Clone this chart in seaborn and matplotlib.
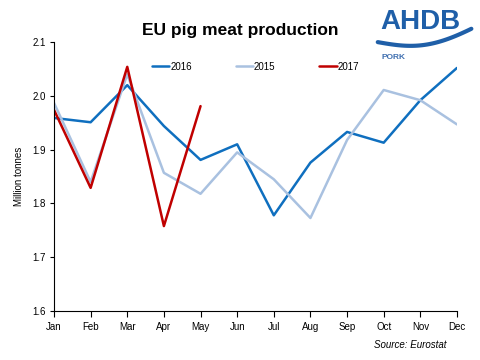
import numpy as np
import pandas as pd
import matplotlib
matplotlib.use("Agg")
import matplotlib.pyplot as plt
import seaborn as sns

months = ["Jan", "Feb", "Mar", "Apr", "May", "Jun", "Jul", "Aug", "Sep", "Oct", "Nov", "Dec"]
prod_2016 = [1.959, 1.951, 2.020, 1.944, 1.881, 1.910, 1.778, 1.876, 1.933, 1.913, 1.992, 2.052]
prod_2015 = [1.987, 1.840, 2.040, 1.857, 1.818, 1.895, 1.845, 1.773, 1.918, 2.011, 1.992, 1.947]
prod_2017 = [1.974, 1.829, 2.054, 1.758, 1.981]

rows = []
for year, vals in [("2016", prod_2016), ("2015", prod_2015), ("2017", prod_2017)]:
    for i, v in enumerate(vals):
        rows.append({"month": i, "year": year, "value": v})
df = pd.DataFrame(rows)

sns.set_style("white")
plt.rcParams["font.family"] = ["Liberation Sans", "DejaVu Sans"]
plt.rcParams["text.color"] = "black"
plt.rcParams["axes.labelcolor"] = "black"
plt.rcParams["xtick.color"] = "black"
plt.rcParams["ytick.color"] = "black"

fig = plt.figure(figsize=(4.8, 3.6), dpi=100)
ax = fig.add_axes([0.1125, 0.136, 0.952 - 0.1125, 0.883 - 0.136])

palette = {"2016": "#0F6FBF", "2015": "#A9C1E0", "2017": "#C00000"}
sns.lineplot(data=df, x="month", y="value", hue="year", hue_order=["2016", "2015", "2017"],
             palette=palette, linewidth=1.8, ax=ax, sort=False)

ax.set_xlim(0, 11)
ax.set_ylim(1.6, 2.1)
ax.set_xticks(range(12))
ax.set_xticklabels(months)
ax.set_yticks([1.6, 1.7, 1.8, 1.9, 2.0, 2.1])
ax.set_yticklabels(["1.6", "1.7", "1.8", "1.9", "2.0", "2.1"])
ax.tick_params(axis="both", labelsize=7, direction="out", width=0.8, bottom=True, left=True)
ax.tick_params(axis="x", length=4, pad=4)
ax.tick_params(axis="y", length=3, pad=3)
for s in ["top", "right"]:
    ax.spines[s].set_visible(False)
for s in ["left", "bottom"]:
    ax.spines[s].set_color("black")
    ax.spines[s].set_linewidth(0.8)
ax.set_xlabel("")
ax.set_ylabel("Million tonnes", fontsize=7)
ax.yaxis.set_label_coords(-0.075, 0.5)

ax.legend(loc="upper center", bbox_to_anchor=(0.5, 0.96), ncol=3, frameon=False,
          fontsize=7, handlelength=1.8, columnspacing=4.5, handletextpad=0.1)

fig.text(0.5, 0.915, "EU pig meat production", ha="center", va="center",
         fontsize=12.5, fontweight="bold")

# logo
fig.text(0.875, 0.94, "AHDB", ha="center", va="center", fontsize=20,
         fontweight="bold", color="#1F5FA8")
t = np.linspace(0, 1, 60)
xs = 0.787 + 0.195 * t
ys = 0.883 - 0.012 * np.sin(t * np.pi * 1.2) + 0.03 * t ** 3
fig.add_artist(plt.Line2D(xs, ys, color="#1F5FA8", linewidth=3, transform=fig.transFigure))
fig.text(0.795, 0.84, "PORK", ha="left", va="center", fontsize=6,
         fontweight="bold", color="#3F6FB0")

fig.text(0.93, 0.043, "Source: Eurostat", ha="right", va="center", fontsize=7, style="italic")

fig.savefig("out.png", dpi=100)
